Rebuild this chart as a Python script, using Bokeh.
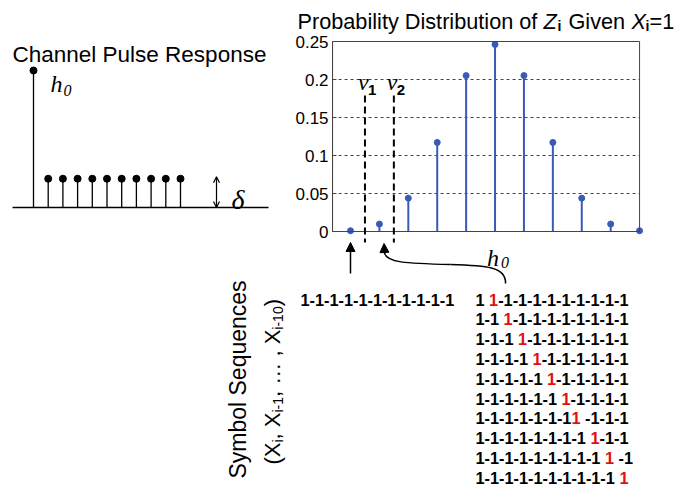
import numpy as np
from bokeh.plotting import figure
from bokeh.models import (Range1d, FixedTicker, Label, Arrow, NormalHead, OpenHead,
                          LinearAxis)
from bokeh.embed import file_html
from bokeh.resources import INLINE

# ---------------- data ----------------
PULSE_N = [0, 1, 2, 3, 4, 5, 6, 7, 8, 9, 10]
PULSE_H = [1.0, 0.21, 0.21, 0.21, 0.21, 0.21, 0.21, 0.21, 0.21, 0.21, 0.21]
DELTA = 0.21

Z_INDEX = [0, 1, 2, 3, 4, 5, 6, 7, 8, 9, 10]
Z_PROB = [0.001, 0.0098, 0.0439, 0.1172, 0.2051, 0.2461, 0.2051, 0.1172, 0.0439, 0.0098, 0.001]
Y_TICKS = [0, 0.05, 0.1, 0.15, 0.2, 0.25]
Y_TICK_LABELS = ["0", "0.05", "0.1", "0.15", "0.2", "0.25"]
GRID_TICKS = [0.05, 0.1, 0.15, 0.2]
K_MIN, K_MAX = -0.62, 10.0
P_MIN, P_MAX = 0.0, 0.25
THRESHOLDS = [0.5, 1.5]
THRESH_NAMES = ["1", "2"]
CENTER_INDEX = 5

BASE_SEQ = [1, -1, -1, -1, -1, -1, -1, -1, -1, -1, -1]
FLIP_POS = [1, 2, 3, 4, 5, 6, 7, 8, 9, 10]
GAP_BEFORE = [1, 1, 1, 1, 1, 1, 0, 1, 1, 1]
GAP_AFTER = [0, 0, 0, 0, 0, 0, 1, 0, 1, 0]

# ---------------- layout (reference-pixel frame) ----------------
W, H = 696, 490
REF_TOP, REF_BOT = 0.0, 490.0
REF_LEFT, REF_RIGHT = 0.0, 696.0
SANS = "Liberation Sans"
SERIF = "Liberation Serif"
BLUE = "#3a5bb5"

# chart placement (reference px)
K0_REF = 350.0
PX_K = (639.0 - 332.0) / (K_MAX - K_MIN)
P0_REF = 231.0
PX_P = 760.0
# pulse placement
N0_REF = 33.0
PX_N = 14.7
A0_REF = 207.0
PX_A = 137.0


def kx(k):
    return K0_REF + PX_K * k


p = figure(width=W, height=H, x_range=Range1d(REF_LEFT, REF_RIGHT),
           y_range=Range1d(REF_BOT, REF_TOP), x_axis_type=None, y_axis_type=None,
           min_border=0, toolbar_location=None, output_backend="svg",
           outline_line_color=None)
p.background_fill_color = "white"
p.border_fill_color = "white"

p.extra_x_ranges = {
    "k": Range1d((REF_LEFT - K0_REF) / PX_K, (REF_RIGHT - K0_REF) / PX_K),
    "n": Range1d((REF_LEFT - N0_REF) / PX_N, (REF_RIGHT - N0_REF) / PX_N),
}
p.extra_y_ranges = {
    "prob": Range1d((P0_REF - REF_BOT) / PX_P, (P0_REF - REF_TOP) / PX_P),
    "a": Range1d((A0_REF - REF_BOT) / PX_A, (A0_REF - REF_TOP) / PX_A),
}


def lab(x, y, text, font=SANS, size="22.5px", style="normal", color="black",
        align="left", baseline="alphabetic", angle=0.0):
    p.add_layout(Label(x=x, y=y, text=text, text_font=font, text_font_size=size,
                       text_font_style=style, text_color=color, text_align=align,
                       text_baseline=baseline, angle=angle))


# ---------------- channel pulse response ----------------
p.segment(x0=[(12 - N0_REF) / PX_N], y0=[0], x1=[(268 - N0_REF) / PX_N], y1=[0],
          line_color="black", line_width=1.3, x_range_name="n", y_range_name="a")
p.segment(x0=PULSE_N, y0=0, x1=PULSE_N, y1=PULSE_H, line_color="black", line_width=1.3,
          x_range_name="n", y_range_name="a")
p.scatter(PULSE_N, PULSE_H, size=7, color="black", x_range_name="n", y_range_name="a")

p.add_layout(Arrow(x_start=216, y_start=A0_REF, x_end=216, y_end=A0_REF - PX_A * DELTA - 2,
                   start=OpenHead(size=6, line_width=1.2), end=OpenHead(size=6, line_width=1.2),
                   line_width=1.2, line_color="black"))

lab(12, 54, "Channel Pulse Response")
lab(50, 83, "h", font=SERIF, size="24px", style="italic")
lab(63, 90, "0", font=SERIF, size="16px", style="italic")
lab(231, 199, "\u03b4", font=SERIF, size="28px", style="italic")

# rotated labels
lab(237, 379, "Symbol Sequences", size="23px", align="center", baseline="middle",
    angle=np.pi / 2)

MAIN_FS, SUB_FS = 22, 14
AW = {"(": 0.333, ")": 0.333, "X": 0.667, ",": 0.278, " ": 0.278, "\u2026": 1.0,
      "i": 0.222, "-": 0.333, "1": 0.556, "0": 0.556}
pieces = [("(X", False), ("i", True), (", X", False), ("i-1", True),
          (", \u2026 , X", False), ("i-10", True), (")", False)]
pos = 0.0
start_ref = 464.0
for txt, sub in pieces:
    fs = SUB_FS if sub else MAIN_FS
    bx = 277 if sub else 272
    lab(bx, start_ref - pos, txt, size=f"{fs}px", angle=np.pi / 2)
    pos += sum(AW[c] for c in txt) * fs

# ---------------- probability distribution chart ----------------
p.segment(x0=K_MIN, y0=GRID_TICKS, x1=K_MAX, y1=GRID_TICKS, line_color="#444444",
          line_width=1, line_dash="3 3", x_range_name="k", y_range_name="prob")
p.segment(x0=Z_INDEX, y0=0, x1=Z_INDEX, y1=Z_PROB, line_color=BLUE, line_width=2,
          x_range_name="k", y_range_name="prob")
p.scatter(Z_INDEX, Z_PROB, size=6, color=BLUE, x_range_name="k", y_range_name="prob")
p.quad(left=[K_MIN], right=[K_MAX], bottom=[P_MIN], top=[P_MAX], fill_color=None,
       line_color="#444444", line_width=1, x_range_name="k", y_range_name="prob")

yax = LinearAxis(x_range_name="k", y_range_name="prob", fixed_location=K_MIN,
                 bounds=(P_MIN, P_MAX), ticker=FixedTicker(ticks=Y_TICKS),
                 major_label_overrides={t: s for t, s in zip(Y_TICKS, Y_TICK_LABELS)})
yax.major_tick_in = 4
yax.major_tick_out = 0
yax.minor_tick_line_color = None
yax.major_label_standoff = 4
yax.major_label_text_font = SANS
yax.major_label_text_font_size = "17px"
yax.major_label_text_color = "black"
yax.axis_line_color = "#444444"
yax.major_tick_line_color = "#444444"
p.add_layout(yax, "left")

# thresholds
for t, name in zip(THRESHOLDS, THRESH_NAMES):
    p.add_layout(Arrow(x_start=kx(t), y_start=95, x_end=kx(t), y_end=242, start=None,
                       end=None, line_color="black", line_width=2, line_dash="7 4"))
    lab(kx(t) - 7, 81, "v", font=SERIF, size="24px", style="italic")
    lab(kx(t) + 3, 89, name, size="15px", style="bold")

# title (pieces laid out left to right)
TFS = 21.7
lab(297, 21, "Probability Distribution of", size=f"{TFS}px")
lab(543, 21, "Z", size=f"{TFS}px", style="italic")
lab(557, 25, "i", size="14px", style="bold")
lab(568, 21, "Given", size=f"{TFS}px")
lab(631, 21, "X", size=f"{TFS}px", style="italic")
lab(645, 25, "i", size="14px", style="bold")
lab(649, 21, "=1", size=f"{TFS}px")

# h0 under the centre
lab(kx(CENTER_INDEX) - 8, 257, "h", font=SERIF, size="24px", style="italic")
lab(kx(CENTER_INDEX) + 6, 262, "0", font=SERIF, size="16px", style="italic")


# arrows
def head():
    return NormalHead(size=9, fill_color="black", line_color="black", line_width=1)


p.add_layout(Arrow(x_start=kx(Z_INDEX[0]), y_start=273, x_end=kx(Z_INDEX[0]), y_end=242,
                   end=head(), line_color="black", line_width=1.5))
p.bezier(x0=[505, 450], y0=[283, 264], x1=[450, 384], y1=[264, 252],
         cx0=[506, 405], cy0=[266, 263], cx1=[485, 385], cy1=[265, 262],
         line_color="black", line_width=1.5)
p.add_layout(Arrow(x_start=384, y_start=253, x_end=383.5, y_end=243,
                   end=head(), line_color="black", line_width=1.5))

# symbol sequences
SEQ_FS = 16.3
WID = {"1": 0.556, "-": 0.333, " ": 0.278}


def tw(s):
    return sum(WID[c] for c in s) * SEQ_FS


def seq_str(seq):
    return "".join(str(v) for v in seq)


SEQ_SIZE = f"{SEQ_FS}px"
SEQ_TOP = 299.0
SEQ_STEP = 19.8
lab(300, SEQ_TOP, seq_str(BASE_SEQ), size=SEQ_SIZE, style="bold")
for i, fp in enumerate(FLIP_POS):
    seq = list(BASE_SEQ)
    seq[fp] = 1
    prefix = seq_str(seq[:fp]) + (" " if GAP_BEFORE[i] else "")
    suffix = seq_str(seq[fp + 1:])
    yb = SEQ_TOP + SEQ_STEP * i
    x_pre = 475
    x_red = x_pre + tw(prefix)
    x_suf = x_red + tw("1" + (" " if GAP_AFTER[i] else ""))
    lab(x_pre, yb, prefix.rstrip(), size=SEQ_SIZE, style="bold")
    lab(x_red, yb, "1", size=SEQ_SIZE, style="bold", color="#e01010")
    if suffix:
        lab(x_suf, yb, suffix, size=SEQ_SIZE, style="bold")

open("out.html", "w").write(file_html(p, INLINE))
